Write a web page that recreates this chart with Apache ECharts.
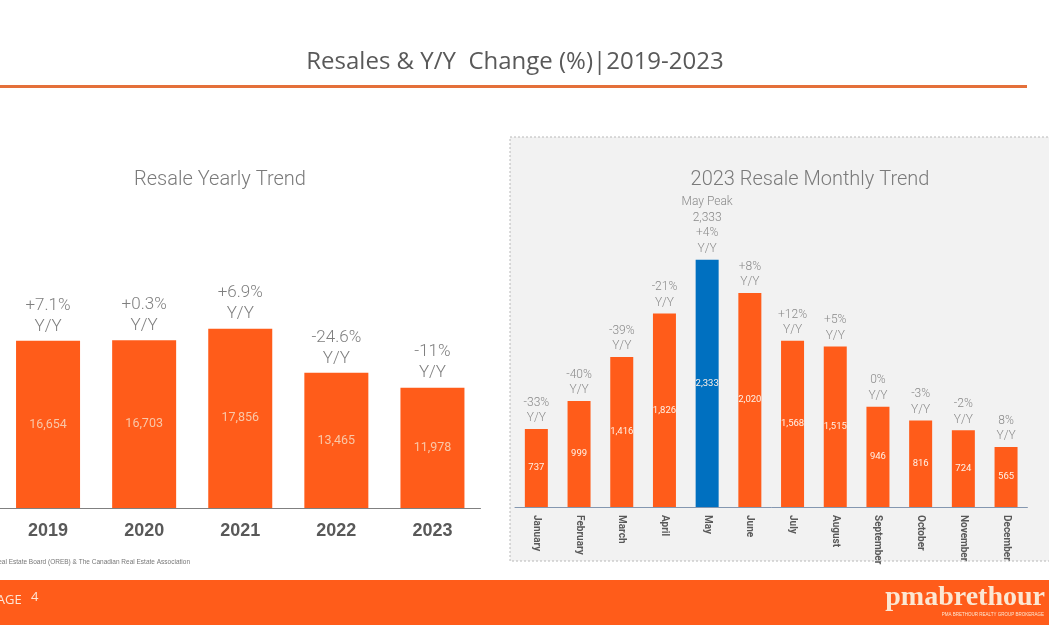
<!DOCTYPE html>
<html><head><meta charset="utf-8">
<script src="https://cdn.jsdelivr.net/npm/echarts@6/dist/echarts.min.js"></script>
<style>html,body{margin:0;padding:0;background:#fff}#c{width:1049px;height:625px}</style>
</head><body><div id="c"></div>
<script>
const years = ['2019','2020','2021','2022','2023'];
const yearlyResales = [16654,16703,17856,13465,11978];
const yearlyChange = ['+7.1%','+0.3%','+6.9%','-24.6%','-11%'];
const months = ['January','February','March','April','May','June','July','August','September','October','November','December'];
const monthlyResales = [737,999,1416,1826,2333,2020,1568,1515,946,816,724,565];
const monthlyChange = ['-33%','-40%','-39%','-21%','+4%','+8%','+12%','+5%','0%','-3%','-2%','8%'];
const peakMonth = 'May';

const ORANGE = '#FF5C1A', BLUE = '#0070C0';
const fmt = v => v.toLocaleString('en-US');
const chart = echarts.init(document.getElementById('c'));

const monthlyData = monthlyResales.map((v,i)=>({value:v,itemStyle:{color: months[i]===peakMonth?BLUE:ORANGE}}));
const monthlyTopLabels = monthlyResales.map((v,i)=> months[i]===peakMonth
  ? peakMonth+' Peak\n'+fmt(v)+'\n'+monthlyChange[i]+'\nY/Y'
  : monthlyChange[i]+'\nY/Y');

chart.setOption({
  animation:false,
  title:[
    {text:'Resales & Y/Y  Change (%)|2019-2023',left:510,top:45,textAlign:'center',
     textStyle:{fontFamily:'Open Sans',fontWeight:'normal',fontSize:24,color:'#595959'}},
    {text:'Resale Yearly Trend',left:215,top:165,textAlign:'center',
     textStyle:{fontFamily:'Roboto',fontWeight:300,fontSize:20,color:'#7a7a7a'}},
    {text:'2023 Resale Monthly Trend',left:805,top:165,textAlign:'center',
     textStyle:{fontFamily:'Roboto',fontWeight:300,fontSize:20,color:'#7a7a7a'}}
  ],
  graphic:[
    {type:'rect',z:-10,shape:{x:510,y:137,width:560,height:424},style:{fill:'#f2f2f2',stroke:'#b8b8b8',lineWidth:1,lineDash:[2,2]}},
    {type:'rect',shape:{x:0,y:85,width:1027,height:3},style:{fill:'#E4703A'}},
    {type:'rect',shape:{x:0,y:580,width:1049,height:45},style:{fill:ORANGE}},
    {type:'text',x:-11,y:594,style:{text:'PAGE',fill:'#fde6d6',fontFamily:'Open Sans',fontSize:13}},
    {type:'text',x:31,y:591,style:{text:'4',fill:'#fde6d6',fontFamily:'Open Sans',fontSize:13}},
    {type:'text',x:1045,y:584,style:{text:'pmabrethour',align:'right',fill:'#fbe7d3',fontFamily:'Liberation Serif',fontWeight:'bold',fontSize:28}},
    {type:'text',x:1044,y:612,style:{text:'PMA BRETHOUR REALTY GROUP BROKERAGE',align:'right',fill:'#fbe7d3',fontFamily:'Liberation Sans',fontSize:4.5}},
    {type:'text',x:190,y:559,style:{text:'Source: Ottawa Real Estate Board (OREB) & The Canadian Real Estate Association',align:'right',fill:'#777',fontFamily:'Liberation Sans',fontSize:6.5}}
  ],
  grid:[
    {left:-1,right:568.5,top:257,bottom:117},
    {left:515,right:21.6,top:189,bottom:118}
  ],
  xAxis:[
    {type:'category',gridIndex:0,data:years,axisTick:{show:false},
     axisLine:{lineStyle:{color:'#808080',width:1}},
     axisLabel:{margin:14,fontFamily:'Liberation Sans',fontWeight:'bold',fontSize:18,color:'#595959'}},
    {type:'category',gridIndex:1,data:months,axisTick:{show:false},
     axisLine:{lineStyle:{color:'#8497B0',width:1}},
     axisLabel:{rotate:-90,margin:8,fontFamily:'Roboto',fontWeight:'bold',fontSize:10,color:'#595959'}}
  ],
  yAxis:[
    {type:'value',gridIndex:0,min:0,max:25000,show:false,splitLine:{show:false}},
    {type:'value',gridIndex:1,min:0,max:3000,show:false,splitLine:{show:false}}
  ],
  series:[
    {type:'bar',xAxisIndex:0,yAxisIndex:0,data:yearlyResales,barWidth:64,itemStyle:{color:ORANGE},
     label:{show:true,position:'inside',formatter:p=>fmt(p.value),color:'#F9C7A8',fontFamily:'Roboto',fontSize:12.5}},
    {type:'bar',xAxisIndex:0,yAxisIndex:0,data:yearlyResales,barWidth:64,barGap:'-100%',itemStyle:{color:'rgba(0,0,0,0)'},
     label:{show:true,position:'top',distance:4,formatter:p=>yearlyChange[p.dataIndex]+'\nY/Y',color:'#7f7f7f',
       fontFamily:'Roboto',fontWeight:300,fontSize:17,lineHeight:21}},
    {type:'bar',xAxisIndex:1,yAxisIndex:1,data:monthlyData,barWidth:23,
     label:{show:true,position:'inside',formatter:p=>fmt(p.value),color:'#FFF1E6',fontFamily:'Roboto',fontSize:9.5}},
    {type:'bar',xAxisIndex:1,yAxisIndex:1,data:monthlyResales,barWidth:23,barGap:'-100%',itemStyle:{color:'rgba(0,0,0,0)'},
     label:{show:true,position:'top',distance:3,formatter:p=>monthlyTopLabels[p.dataIndex],color:'#8a8a8a',
       fontFamily:'Roboto',fontWeight:300,fontSize:12,lineHeight:15.5}}
  ]
});
</script></body></html>
